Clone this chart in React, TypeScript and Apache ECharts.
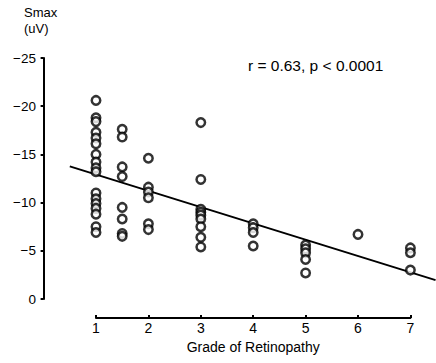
import React, { useEffect, useRef } from "react";
import * as echarts from "echarts";

// Grade of retinopathy levels with measured Smax values (uV) for each level
const gradeLevels = [1, 1.5, 2, 3, 4, 5, 6, 7];
const smaxGrade1 = [-20.6, -18.8, -18.4, -17.3, -16.7, -16.1, -15.0, -14.2, -13.6, -13.2, -11.0, -10.4, -9.9, -9.4, -8.8, -7.5, -6.9];
const smaxGrade1_5 = [-17.6, -16.8, -13.7, -12.7, -9.5, -8.3, -6.8, -6.5];
const smaxGrade2 = [-14.6, -11.6, -11.1, -10.5, -7.8, -7.2];
const smaxGrade3 = [-18.3, -12.4, -9.3, -9.0, -8.7, -8.3, -7.5, -6.4, -5.4];
const smaxGrade4 = [-7.8, -7.4, -6.9, -5.5];
const smaxGrade5 = [-5.6, -5.2, -4.8, -4.1, -2.7];
const smaxGrade6 = [-6.7];
const smaxGrade7 = [-5.3, -4.8, -3.0];
const smaxByGrade = [smaxGrade1, smaxGrade1_5, smaxGrade2, smaxGrade3, smaxGrade4, smaxGrade5, smaxGrade6, smaxGrade7];

// Axis ticks
const yTickValues = [-25, -20, -15, -10, -5, 0];
const xTickValues = [1, 2, 3, 4, 5, 6, 7];

// Least-squares fit line
const fitIntercept = -14.6;
const fitSlope = 1.69;
const fitStart = 0.5;
const fitEnd = 7.48;

const annotation = "r = 0.63, p < 0.0001";
const yTitleLines = ["Smax", "(uV)"];
const xTitle = "Grade of Retinopathy";

// Layout
const W = 436;
const H = 363;
const Y_AXIS_X = 39;
const GRADE1_X = 96;
const PX_PER_GRADE = 52.4;
const PLOT_TOP = 58;
const PLOT_BOTTOM = 299;
const X_AXIS_Y = 318;

const FONT = "'Liberation Sans', Arial, sans-serif";

export default function App() {
  const ref = useRef<HTMLDivElement>(null);

  useEffect(() => {
    if (!ref.current) return;
    const chart = echarts.init(ref.current, undefined, { renderer: "svg" });

    const points: number[][] = [];
    gradeLevels.forEach((g, i) => {
      smaxByGrade[i].forEach((v) => points.push([g, v]));
    });

    const xMin = 1 - (GRADE1_X - Y_AXIS_X) / PX_PER_GRADE;
    const xMax = 1 + (W - GRADE1_X) / PX_PER_GRADE;

    const minus = (v: number) => (v === 0 ? "0" : v < 0 ? "\u2212" + Math.abs(v) : String(v));

    chart.setOption({
      animation: false,
      backgroundColor: "#fff",
      textStyle: { fontFamily: FONT, color: "#000" },
      grid: [
        { left: Y_AXIS_X, top: PLOT_TOP, width: W - Y_AXIS_X, height: PLOT_BOTTOM - PLOT_TOP },
        {
          left: GRADE1_X,
          top: X_AXIS_Y - 10,
          width: PX_PER_GRADE * (xTickValues.length - 1),
          height: 10,
        },
      ],
      xAxis: [
        {
          gridIndex: 0,
          type: "value",
          min: xMin,
          max: xMax,
          show: false,
        },
        {
          gridIndex: 1,
          type: "value",
          min: xTickValues[0],
          max: xTickValues[xTickValues.length - 1],
          interval: 1,
          position: "bottom",
          axisLine: { show: true, lineStyle: { color: "#000", width: 2 } },
          axisTick: { show: true, inside: true, length: 3, lineStyle: { color: "#000", width: 2 } },
          splitLine: { show: false },
          axisLabel: { fontSize: 14, color: "#000", margin: 3, fontFamily: FONT },
          name: xTitle,
          nameLocation: "middle",
          nameGap: 22,
          nameTextStyle: { fontSize: 14, color: "#000", fontFamily: FONT },
        },
      ],
      yAxis: [
        {
          gridIndex: 0,
          type: "value",
          inverse: true,
          min: yTickValues[0],
          max: yTickValues[yTickValues.length - 1],
          interval: 5,
          axisLine: { show: true, lineStyle: { color: "#000", width: 2 } },
          axisTick: { show: true, length: 3, lineStyle: { color: "#000", width: 2 } },
          splitLine: { show: false },
          axisLabel: {
            fontSize: 13.5,
            color: "#000",
            margin: 3,
            fontFamily: FONT,
            formatter: minus,
          },
        },
        { gridIndex: 1, type: "value", show: false },
      ],
      series: [
        {
          type: "scatter",
          xAxisIndex: 0,
          yAxisIndex: 0,
          data: points,
          symbol: "circle",
          symbolSize: 8.5,
          itemStyle: { color: "#fff", borderColor: "#000", borderWidth: 2.5 },
          z: 3,
        },
        {
          type: "line",
          xAxisIndex: 0,
          yAxisIndex: 0,
          data: [
            [fitStart, fitIntercept + fitSlope * fitStart],
            [fitEnd, fitIntercept + fitSlope * fitEnd],
          ],
          symbol: "none",
          lineStyle: { color: "#000", width: 2 },
          z: 2,
        },
      ],
      graphic: [
        {
          type: "text",
          left: 24,
          top: 6,
          style: {
            text: yTitleLines[0],
            font: `13px ${FONT}`,
            fill: "#000",
          },
        },
        {
          type: "text",
          left: 24,
          top: 22,
          style: {
            text: yTitleLines[1],
            font: `13px ${FONT}`,
            fill: "#000",
          },
        },
        {
          type: "text",
          left: 248,
          top: 57,
          style: {
            text: annotation,
            font: `15.5px ${FONT}`,
            fill: "#000",
          },
        },
      ],
    });

    return () => chart.dispose();
  }, []);

  return (
    <div
      ref={ref}
      style={{ position: "fixed", left: 0, top: 0, width: W, height: H, background: "#fff" }}
    />
  );
}
